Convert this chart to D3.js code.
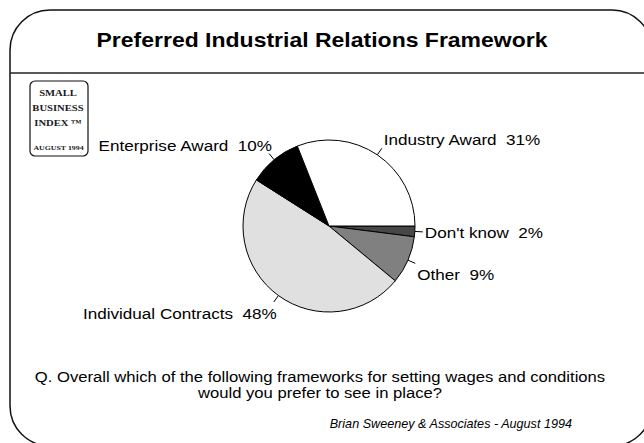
<!DOCTYPE html>
<html>
<head>
<meta charset="utf-8">
<script src="https://cdn.jsdelivr.net/npm/d3@7/dist/d3.min.js"></script>
<style>
  html, body { margin: 0; padding: 0; background: #fff; overflow: hidden; }
  svg { display: block; }
  text { font-family: "Liberation Sans", Arial, Helvetica, sans-serif; fill: #000; white-space: pre; }
</style>
</head>
<body>
<svg id="chart" width="644" height="443"></svg>
<script>
// Survey answers, in clockwise order from three o'clock
const categories = ["Don't know", "Other", "Individual Contracts", "Enterprise Award", "Industry Award"];
const shares = [2, 9, 48, 10, 31];

const titleText = "Preferred Industrial Relations Framework";
const questionLines = [
  "Q. Overall which of the following frameworks for setting wages and conditions",
  "would you prefer to see in place?"
];
const creditText = "Brian Sweeney & Associates - August 1994";
const badgeLines = ["SMALL", "BUSINESS", "INDEX \u2122"];
const badgeFoot = "AUGUST 1994";

const W = 644, H = 443;
const svg = d3.select("#chart");
const stretch = 1.14; // the slide's type is set a little wide

// slide frame with a rounded border and a rule under the heading
const frame = { x: 10, y: 10, w: 642, h: 436, r: 40 };
svg.append("rect")
  .attr("x", frame.x).attr("y", frame.y)
  .attr("width", frame.w).attr("height", frame.h)
  .attr("rx", frame.r).attr("ry", frame.r)
  .attr("fill", "none").attr("stroke", "#111").attr("stroke-width", 1.5);
svg.append("line")
  .attr("x1", frame.x).attr("x2", frame.x + frame.w)
  .attr("y1", 73).attr("y2", 73)
  .attr("stroke", "#222").attr("stroke-width", 1.5);

function stretchedText(sel, x, y, sx) {
  return sel.attr("transform", `translate(${x},${y}) scale(${sx},1)`);
}

stretchedText(svg.append("text"), 322, 47, 1.095)
  .attr("text-anchor", "middle")
  .attr("font-size", 21).attr("font-weight", "bold")
  .text(titleText);

// badge in the top-left corner
const badge = svg.append("g");
badge.append("rect")
  .attr("x", 30).attr("y", 81).attr("width", 58).attr("height", 75)
  .attr("rx", 5).attr("ry", 5)
  .attr("fill", "#fff").attr("stroke", "#111").attr("stroke-width", 1.2);
const badgeY = d3.scaleLinear().domain([0, 2]).range([96, 126]);
badgeLines.forEach((t, i) => {
  stretchedText(badge.append("text"), 58, badgeY(i), 1.18)
    .attr("text-anchor", "middle")
    .attr("font-size", 9).attr("font-weight", "bold")
    .style("font-family", "'Liberation Serif', 'DejaVu Serif', serif")
    .style("fill", "#1a1a1a")
    .text(t);
});
stretchedText(badge.append("text"), 58.5, 150, 1.12)
  .attr("text-anchor", "middle")
  .attr("font-size", 7).attr("font-weight", "bold")
  .style("font-family", "'Liberation Serif', 'DejaVu Serif', serif")
  .style("fill", "#1a1a1a")
  .text(badgeFoot);

// pie
const cx = 329, cy = 226, radius = 86, leaderR = 94;
const color = d3.scaleOrdinal()
  .domain(categories)
  .range(["#474747", "#808080", "#e0e0e0", "#000000", "#ffffff"]);

const data = categories.map((c, i) => ({ name: c, value: shares[i] }));
const pie = d3.pie()
  .sort(null)
  .value(d => d.value)
  .startAngle(Math.PI / 2)
  .endAngle(Math.PI / 2 + 2 * Math.PI);
const arcs = pie(data);
const arc = d3.arc().innerRadius(0).outerRadius(radius);

const g = svg.append("g").attr("transform", `translate(${cx},${cy})`);
g.selectAll("path")
  .data(arcs)
  .join("path")
  .attr("d", arc)
  .attr("fill", d => color(d.data.name))
  .attr("stroke", "#000").attr("stroke-width", 1)
  .attr("stroke-linejoin", "round");

const polar = (a, r) => [Math.sin(a) * r, -Math.cos(a) * r];

arcs.forEach(d => {
  const a = (d.startAngle + d.endAngle) / 2;
  const p0 = polar(a, radius), p1 = polar(a, leaderR);
  g.append("line")
    .attr("x1", p0[0]).attr("y1", p0[1])
    .attr("x2", p1[0]).attr("y2", p1[1])
    .attr("stroke", "#000").attr("stroke-width", 1);

  const up = Math.cos(a), right = Math.sin(a);
  const tx = right > 0 ? p1[0] + 2 : p1[0] + 3;
  const ty = up > 0.3 ? p1[1] - 3 : (up < -0.3 ? p1[1] + 17 : p1[1] + 6);
  stretchedText(g.append("text"), tx, ty, stretch)
    .attr("text-anchor", right > 0 ? "start" : "end")
    .attr("font-size", 15)
    .text(`${d.data.name}  ${d.data.value}%`);
});

// question and credit
const qY = d3.scaleLinear().domain([0, 1]).range([382, 398]);
questionLines.forEach((t, i) => {
  stretchedText(svg.append("text"), 320, qY(i), 1.11)
    .attr("text-anchor", "middle")
    .attr("font-size", 15)
    .text(t);
});
stretchedText(svg.append("text"), 572, 428, 1.01)
  .attr("text-anchor", "end")
  .attr("font-size", 12.5).attr("font-style", "italic")
  .text(creditText);
</script>
</body>
</html>
